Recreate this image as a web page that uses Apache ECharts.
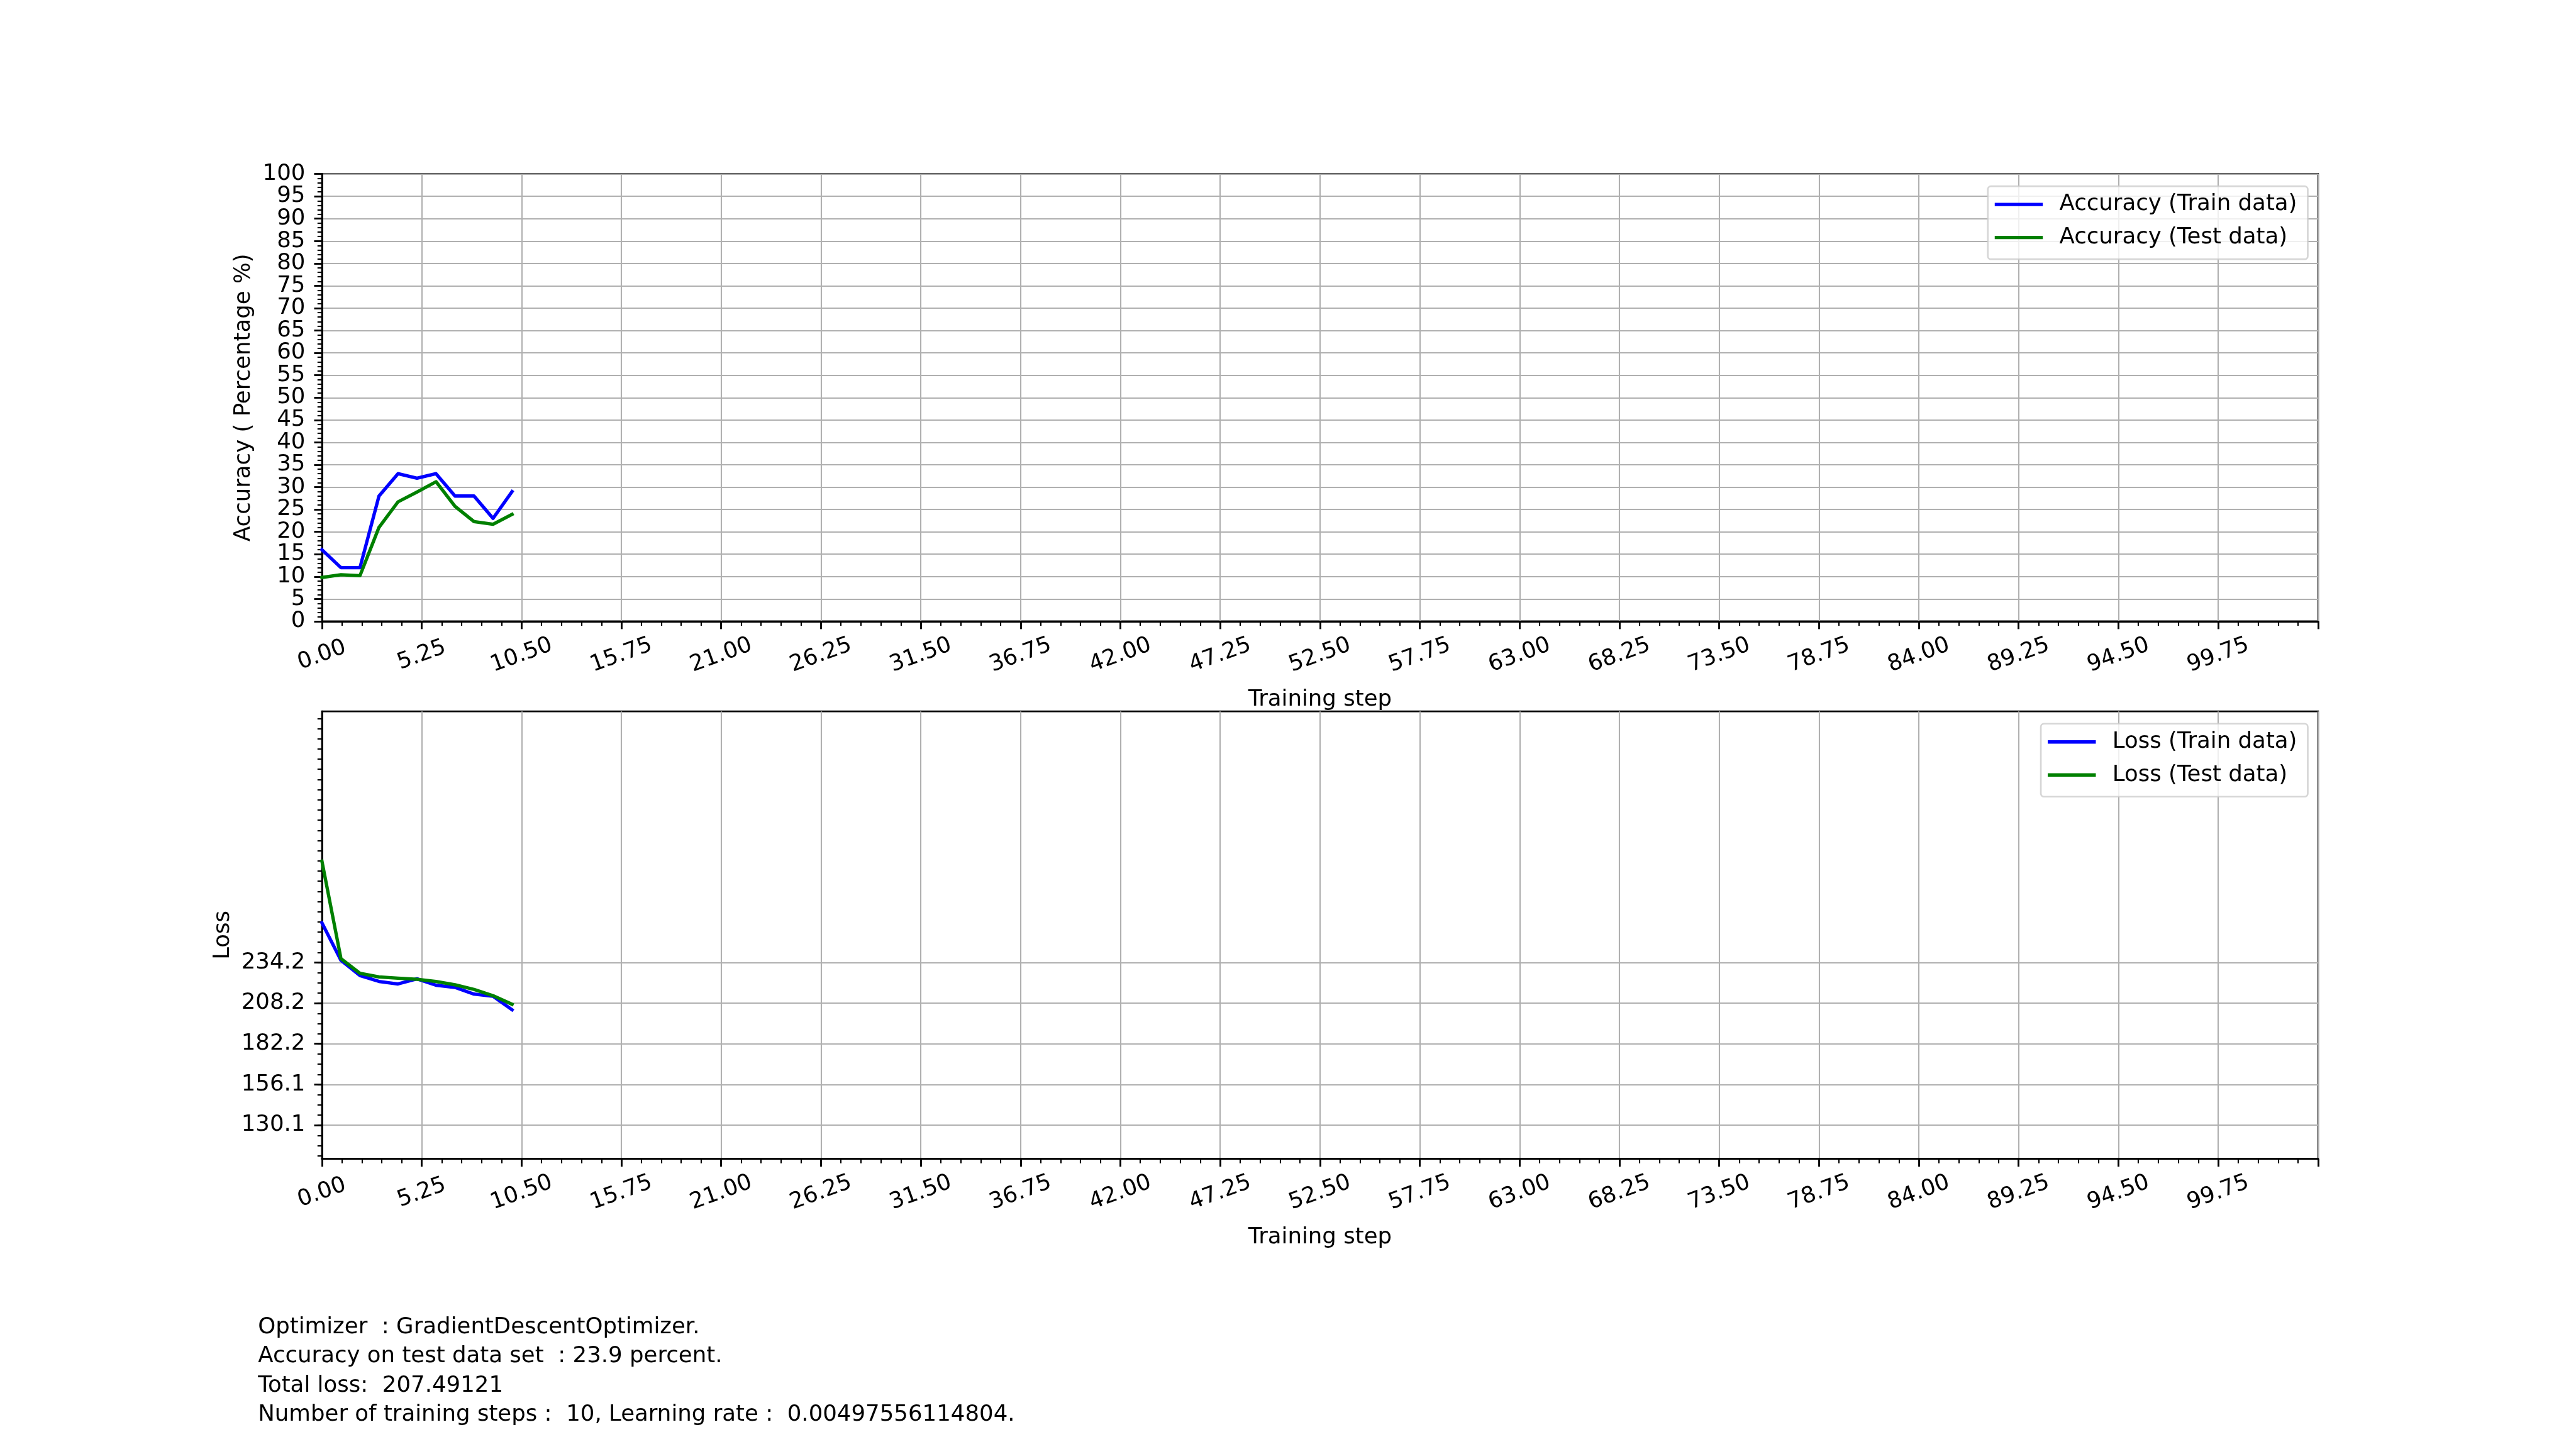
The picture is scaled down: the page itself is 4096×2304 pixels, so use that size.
<!DOCTYPE html>
<html><head><meta charset="utf-8">
<script src="https://cdn.jsdelivr.net/npm/echarts@6/dist/echarts.min.js"></script>
<style>html,body{margin:0;padding:0;background:#fff}#c{width:4096px;height:2304px}</style>
</head><body><div id="c"></div>
<script>
// ---- data ----
const steps = [0, 1, 2, 3, 4, 5, 6, 7, 8, 9, 10];
const trainAccuracy = [16, 12, 12, 28, 33, 32, 33, 28, 28, 23, 29];
const testAccuracy = [9.8, 10.4, 10.2, 21, 26.7, 28.9, 31.2, 25.7, 22.3, 21.7, 23.9];
const trainLoss = [259.6, 235.6, 225.9, 222.1, 220.5, 223.8, 219.7, 218.3, 214.0, 212.6, 204.0];
const testLoss = [299.0, 236.7, 227.3, 225.0, 224.2, 223.5, 222.1, 220.0, 217.0, 213.0, 207.49];
const stepTickLabels = ['0.00','5.25','10.50','15.75','21.00','26.25','31.50','36.75','42.00','47.25',
  '52.50','57.75','63.00','68.25','73.50','78.75','84.00','89.25','94.50','99.75'];
const accuracyTickLabels = ['0','5','10','15','20','25','30','35','40','45','50','55','60','65','70','75','80','85','90','95','100'];
const lossTickLabels = ['130.1','156.1','182.2','208.2','234.2'];
const infoLines = [
  'Optimizer  : GradientDescentOptimizer.',
  'Accuracy on test data set  : 23.9 percent.',
  'Total loss:  207.49121',
  'Number of training steps :  10, Learning rate :  0.00497556114804.'
];
const seriesNames = ['Accuracy (Train data)', 'Accuracy (Test data)', 'Loss (Train data)', 'Loss (Test data)'];

// ---- layout ----
const S = 0.711;
const FONT = 'DejaVu Sans';
const FS = 50 * S;
const stepTickValues = stepTickLabels.map(Number);
const accuracyTickValues = accuracyTickLabels.map(Number);
const nAcc = accuracyTickValues.length;
// labels next to the end labels go on an overlaid axis so that ECharts does not drop them
const accMainLabelValues = accuracyTickValues.filter((v, i) => i !== 1 && i !== nAcc - 2);
const accSideLabelValues = [accuracyTickValues[1], accuracyTickValues[nAcc - 2]];
const lossTickValues = lossTickLabels.map(Number);
const lossMin = 108.65, lossMax = 394.85;
const lossMinorStep = (lossTickValues[lossTickValues.length - 1] - lossTickValues[0]) / ((lossTickValues.length - 1) * 4);
const lossMinorValues = [];
for (let v = lossTickValues[0]; v >= lossMin; v -= lossMinorStep) lossMinorValues.unshift(v);
for (let v = lossTickValues[0] + lossMinorStep; v <= lossMax; v += lossMinorStep) lossMinorValues.push(v);

const gridLeft = 720 * S, gridWidth = (5184 - 720) * S, gridHeight = 1000.5 * S;
const tickStyle = { color: '#000', width: 4 * S };
const minorTickStyle = { color: '#000', width: 3 * S };
const gridLineStyle = { color: '#b0b0b0', width: 3 * S };
const textBase = { fontFamily: FONT, fontSize: FS, color: '#000' };

function labelFor(values, labels) {
  return v => { const i = values.findIndex(t => Math.abs(t - v) < 1e-6); return i < 0 ? '' : labels[i]; };
}

function xAxis(gi) {
  return {
    type: 'value', gridIndex: gi, min: 0, max: 105, interval: 5.25, position: 'bottom',
    axisLine: { show: true, onZero: false, lineStyle: tickStyle },
    axisTick: { show: true, length: 17.5 * S, lineStyle: tickStyle },
    minorTick: { show: true, splitNumber: 5, length: 10 * S, lineStyle: minorTickStyle },
    splitLine: { show: true, lineStyle: gridLineStyle },
    axisLabel: Object.assign({
      customValues: stepTickValues,
      formatter: labelFor(stepTickValues, stepTickLabels),
      showMinLabel: true, hideOverlap: false,
      rotate: 20, align: 'center', verticalAlign: 'middle', margin: 54
    }, textBase),
    name: 'Training step', nameLocation: 'middle', nameGap: 107,
    nameTextStyle: textBase
  };
}

const accLabel = labelFor(accuracyTickValues, accuracyTickLabels);

const option = {
  animation: false,
  backgroundColor: '#fff',
  grid: [
    { left: gridLeft, top: 389 * S, width: gridWidth, height: gridHeight, show: true, borderColor: '#000', borderWidth: 4 * S, backgroundColor: 'transparent', containLabel: false },
    { left: gridLeft, top: 1591 * S, width: gridWidth, height: gridHeight, show: true, borderColor: '#000', borderWidth: 4 * S, backgroundColor: 'transparent', containLabel: false }
  ],
  xAxis: [xAxis(0), xAxis(1)],
  yAxis: [
    {
      type: 'value', gridIndex: 0, min: 0, max: 100, interval: 5, position: 'left', offset: 0,
      axisLine: { show: true, onZero: false, lineStyle: tickStyle },
      axisTick: { show: true, length: 17.5 * S, lineStyle: tickStyle },
      minorTick: { show: true, splitNumber: 5, length: 10 * S, lineStyle: minorTickStyle },
      splitLine: { show: true, lineStyle: gridLineStyle },
      axisLabel: Object.assign({
        customValues: accMainLabelValues,
        formatter: accLabel,
        showMinLabel: true, showMaxLabel: true, hideOverlap: false,
        margin: 26.5
      }, textBase),
      name: 'Accuracy ( Percentage %)', nameLocation: 'middle', nameGap: 106.5, nameRotate: 90,
      nameTextStyle: textBase
    },
    {
      type: 'value', gridIndex: 1, min: lossMin, max: lossMax, position: 'left', offset: 0,
      axisLine: { show: true, onZero: false, lineStyle: tickStyle },
      axisTick: { show: true, customValues: lossTickValues, length: 17.5 * S, lineStyle: tickStyle },
      splitLine: { show: true, lineStyle: gridLineStyle },
      axisLabel: Object.assign({
        customValues: lossTickValues,
        formatter: labelFor(lossTickValues, lossTickLabels),
        margin: 26.5
      }, textBase),
      name: 'Loss', nameLocation: 'middle', nameGap: 138.5, nameRotate: 90,
      nameTextStyle: textBase
    },
    {
      type: 'value', gridIndex: 1, min: lossMin, max: lossMax, position: 'left', offset: 0,
      axisLine: { show: false, onZero: false },
      axisTick: { show: true, customValues: lossMinorValues, length: 10 * S, lineStyle: minorTickStyle },
      splitLine: { show: false },
      axisLabel: { show: false }
    },
    {
      type: 'value', gridIndex: 0, min: 0, max: 100, interval: 5, position: 'left', offset: 0,
      axisLine: { show: false, onZero: false },
      axisTick: { show: false },
      splitLine: { show: false },
      axisLabel: Object.assign({
        customValues: accSideLabelValues,
        formatter: accLabel,
        hideOverlap: false,
        margin: 26.5
      }, textBase)
    }
  ],
  legend: [0, 1].map(k => ({
    data: [{ name: seriesNames[2 * k], icon: 'rect' }, { name: seriesNames[2 * k + 1], icon: 'rect' }],
    orient: 'vertical',
    right: 4096 - 5161 * S,
    top: (k === 0 ? 413 : 1615) * S + 2.5,
    itemWidth: 107.5 * S, itemHeight: 7.5 * S, itemGap: 16.5,
    padding: [11, 17, 16.5, 11],
    backgroundColor: 'rgba(255,255,255,0.8)',
    borderColor: 'rgba(204,204,204,0.8)', borderWidth: 2.7, borderRadius: 5,
    selectedMode: false,
    textStyle: Object.assign({ padding: [0, 0, 0, 21.3] }, textBase)
  })),
  series: [
    [trainAccuracy, '#0000ff', 0],
    [testAccuracy, '#008000', 0],
    [trainLoss, '#0000ff', 1],
    [testLoss, '#008000', 1]
  ].map((d, i) => ({
    type: 'line', name: seriesNames[i],
    xAxisIndex: d[2], yAxisIndex: d[2],
    data: steps.map((s, j) => [s, d[0][j]]),
    showSymbol: false, symbol: 'none',
    color: d[1],
    itemStyle: { color: d[1] },
    lineStyle: { color: d[1], width: 7.5 * S, join: 'round', cap: 'square' },
    z: 3
  })),
  graphic: [{
    type: 'text', left: 577 * S, top: 2087.5,
    style: { text: infoLines.join('\n'), fontFamily: FONT, fontSize: FS, lineHeight: 46.4, fill: '#000' }
  }]
};
const chart = echarts.init(document.getElementById('c'), null, { renderer: 'canvas' });
chart.setOption(option);
</script>
</body></html>
